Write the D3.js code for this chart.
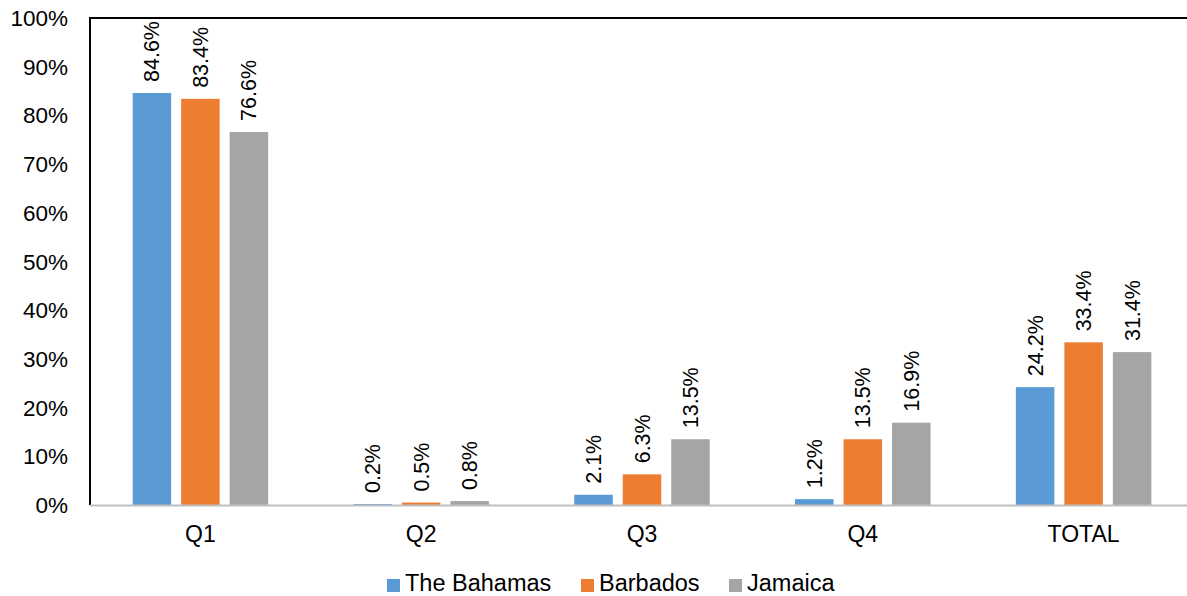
<!DOCTYPE html>
<html><head><meta charset="utf-8">
<script src="https://cdn.jsdelivr.net/npm/d3@7"></script>
<style>body{margin:0;background:#fff}svg{display:block;font-family:"Liberation Sans",Arial,sans-serif}</style>
</head><body><svg id="c" width="1187" height="596"></svg>
<script>
const categories = ["Q1","Q2","Q3","Q4","TOTAL"];
const seriesNames = ["The Bahamas","Barbados","Jamaica"];
const bahamas = [84.6,0.2,2.1,1.2,24.2];
const barbados = [83.4,0.5,6.3,13.5,33.4];
const jamaica = [76.6,0.8,13.5,16.9,31.4];
const colors = ["#5B9BD5","#ED7D31","#A5A5A5"];
const yTicks = [0,10,20,30,40,50,60,70,80,90,100];
const series = [bahamas,barbados,jamaica];

const svg = d3.select("#c");
const L=90, R=1194, T=18, B=505;
const x = d3.scaleBand().domain(categories).range([L,R]).paddingInner(0).paddingOuter(0);
const y = d3.scaleLinear().domain([0,100]).range([B,T]);
const barW = 38.5, gap = 10;
const x1 = d3.scaleBand().domain(seriesNames).range([0, 3*barW+2*gap]).paddingInner(gap/(barW+gap)).paddingOuter(0);

// frame
svg.append("line").attr("x1",L).attr("x2",L).attr("y1",T).attr("y2",B).attr("stroke","#000").attr("stroke-width",2);
svg.append("line").attr("x1",L-1).attr("x2",1187).attr("y1",T).attr("y2",T).attr("stroke","#000").attr("stroke-width",2);

const g = svg.append("g");
series.forEach((vals,si)=>{
  categories.forEach((c,ci)=>{
    const gx = x(c)+x.bandwidth()/2 - (3*barW+2*gap)/2 + x1(seriesNames[si]);
    g.append("rect").attr("x",gx).attr("width",x1.bandwidth())
      .attr("y",y(vals[ci])).attr("height",B-y(vals[ci])).attr("fill",colors[si]);
    const cx = gx + x1.bandwidth()/2;
    const ty = y(vals[ci]) - 11;
    g.append("text").attr("transform",`translate(${cx+7.5},${ty}) rotate(-90)`)
      .attr("font-size",21.5).attr("fill","#000").text(vals[ci].toFixed(1)+"%");
  });
});

// baseline
svg.append("line").attr("x1",L).attr("x2",1187).attr("y1",B+0.5).attr("y2",B+0.5).attr("stroke","#BFBFBF").attr("stroke-width",2);

// y axis labels
svg.append("g").selectAll("text").data(yTicks).join("text")
  .attr("x",68).attr("y",d=>y(d)+8).attr("text-anchor","end").attr("font-size",22.5).attr("fill","#000")
  .text(d=>d+"%");

// x labels
svg.append("g").selectAll("text").data(categories).join("text")
  .attr("x",d=>x(d)+x.bandwidth()/2).attr("y",542).attr("text-anchor","middle").attr("font-size",23).attr("fill","#000")
  .text(d=>d);

// legend
const legX = [387,581,729];
seriesNames.forEach((n,i)=>{
  svg.append("rect").attr("x",legX[i]).attr("y",579).attr("width",13).attr("height",13).attr("fill",colors[i]);
  svg.append("text").attr("x",legX[i]+18).attr("y",591).attr("font-size",23.5).attr("fill","#000").text(n);
});
</script></body></html>
